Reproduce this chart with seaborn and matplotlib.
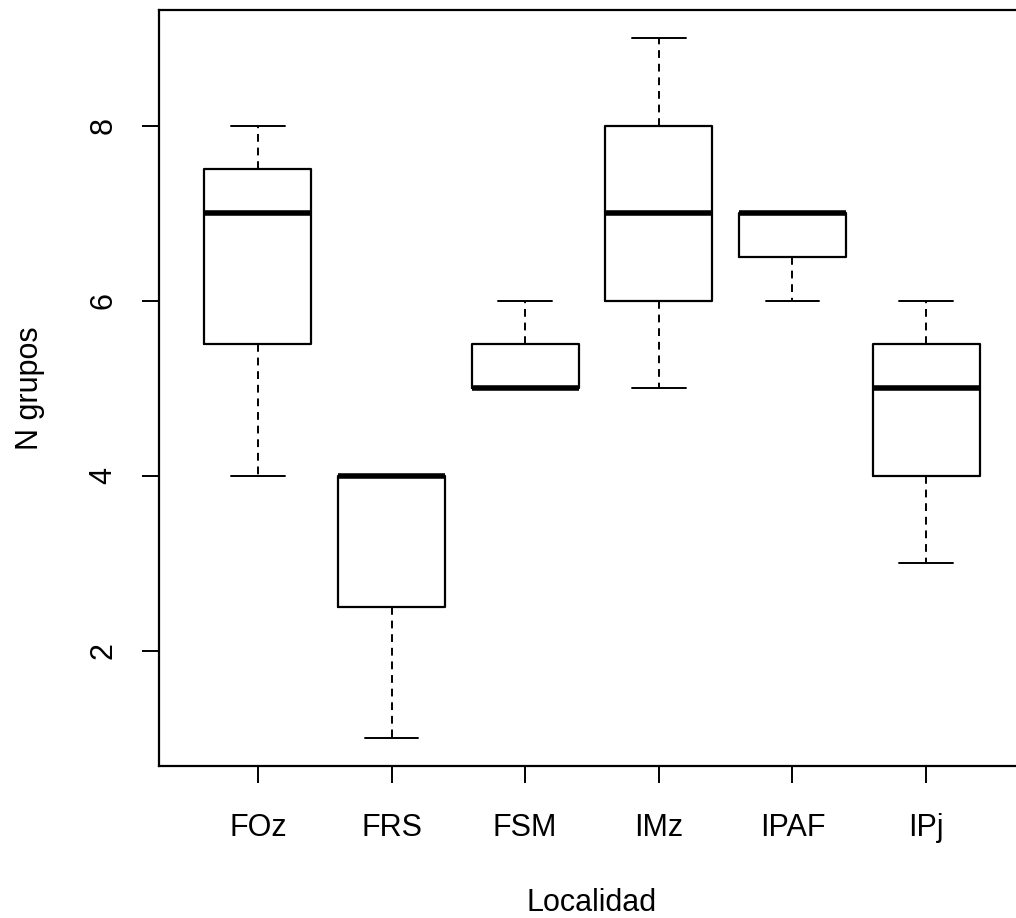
import pandas as pd
import seaborn as sns
import matplotlib.pyplot as plt

# N grupos per locality (values chosen to reproduce the boxes in the figure)
foz = [4, 7, 8]
frs = [1, 4, 4]
fsm = [5, 5, 6]
imz = [5, 6, 7, 8, 9]
ipaf = [6, 7, 7]
ipj = [3, 5, 6]
localidades = ["FOz", "FRS", "FSM", "IMz", "IPAF", "IPj"]

rows = []
for loc, vals in zip(localidades, [foz, frs, fsm, imz, ipaf, ipj]):
    for v in vals:
        rows.append({"Localidad": loc, "N grupos": v})
df = pd.DataFrame(rows)

sns.set_style("white")
plt.rcParams["font.family"] = ["Liberation Sans", "DejaVu Sans"]

fig = plt.figure(figsize=(10.16, 9.18), dpi=100)
# axes box runs off the right edge, as in the reference
ax = fig.add_axes([159 / 1016, 1 - 766 / 918, (1025 - 159) / 1016, (766 - 10) / 918])

sns.boxplot(data=df, x="Localidad", y="N grupos", order=localidades, ax=ax,
            width=0.8, fill=False, color="black", linewidth=1.6, whis=1.5,
            medianprops={"linewidth": 4, "color": "black", "solid_capstyle": "butt"},
            whiskerprops={"linestyle": (0, (4, 3)), "linewidth": 1.4},
            capprops={"linewidth": 1.4},
            boxprops={"linewidth": 1.6})

ax.set_xlim(-0.74, 5.74)
ax.set_ylim(0.68, 9.32)
ax.set_yticks([2, 4, 6, 8])
ax.set_yticklabels(["2", "4", "6", "8"], rotation=90, va="center")
ax.tick_params(axis="both", direction="out", length=12, width=1.4, labelsize=22,
               left=True, bottom=True, colors="black")
ax.tick_params(axis="x", pad=22)
ax.tick_params(axis="y", pad=17)
for s in ax.spines.values():
    s.set_color("black")
    s.set_linewidth(1.6)

ax.set_xlabel("Localidad", fontsize=22, color="black")
ax.set_ylabel("N grupos", fontsize=22, color="black")
ax.xaxis.set_label_coords(0.5, (766 - 903) / 756)
ax.xaxis.label.set_va("center")
ax.yaxis.set_label_coords((30 - 159) / 866, 0.5)
ax.yaxis.label.set_va("center")

fig.savefig("out.png", dpi=100)
